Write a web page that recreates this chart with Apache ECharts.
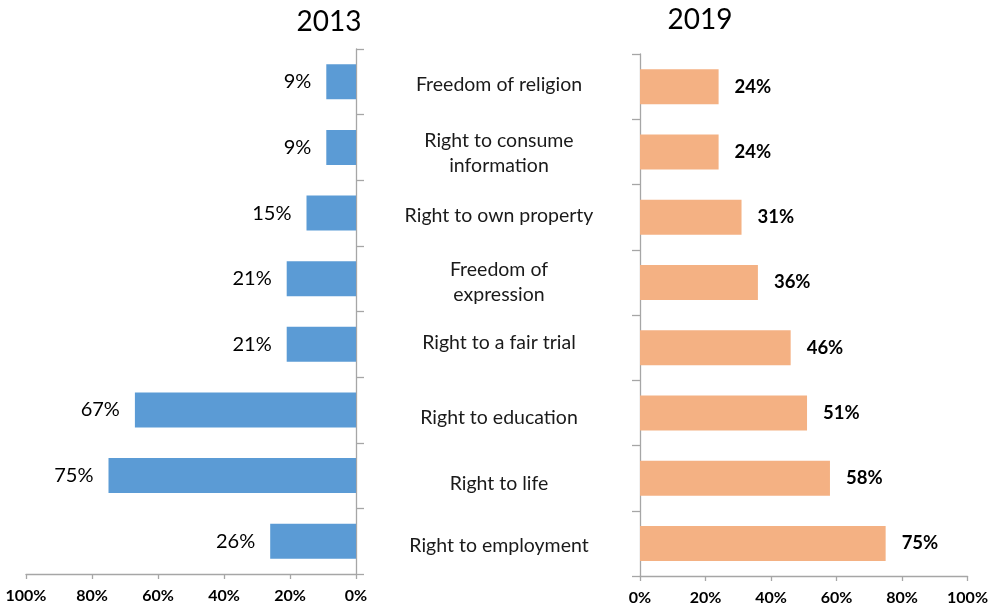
<!DOCTYPE html>
<html>
<head>
<meta charset="utf-8">
<script src="https://cdn.jsdelivr.net/npm/echarts@6/dist/echarts.min.js"></script>
<style>
  html, body { margin: 0; padding: 0; background: #fff; }
  #chart { width: 991px; height: 610px; }
</style>
</head>
<body>
<div id="chart"></div>
<script>
// Rights named in each survey year, listed top to bottom
const categories = [
  'Freedom of religion',
  'Right to consume\ninformation',
  'Right to own property',
  'Freedom of\nexpression',
  'Right to a fair trial',
  'Right to education',
  'Right to life',
  'Right to employment'
];
const years = ['2013', '2019'];
const values2013 = [9, 9, 15, 21, 21, 67, 75, 26];
const values2019 = [24, 24, 31, 36, 46, 51, 58, 75];
const tickValues = [0, 20, 40, 60, 80, 100];

// small vertical nudges (px) of the centre labels
const labelShift = [-2, 1, -1, 0, -5, 5, 6, 2];

const FONT = 'Lato';
const axisGray = '#A6A6A6';

const rich = {};
categories.forEach((c, i) => {
  const d = labelShift[i];
  rich['c' + i] = {
    fontFamily: FONT, fontSize: 19.5, color: '#1a1a1a', lineHeight: 25,
    align: 'center',
    padding: d >= 0 ? [2 * d, 0, 0, 0] : [0, 0, -2 * d, 0]
  };
});

const valueAxisCommon = {
  type: 'value', min: 0, max: 100, interval: 20,
  splitLine: { show: false },
  axisLine: { show: true, lineStyle: { color: axisGray, width: 1.3 } },
  axisTick: { show: true, length: 5, lineStyle: { color: axisGray, width: 1.3 } },
  axisLabel: {
    fontFamily: FONT, fontSize: 16, fontWeight: 'bold', color: '#000', margin: 14,
    formatter: v => tickValues.includes(v) ? v + '%' : ''
  }
};

const chart = echarts.init(document.getElementById('chart'), null, { renderer: 'canvas' });
chart.setOption({
  animation: false,
  backgroundColor: '#fff',
  title: [
    { text: years[0], left: 324, top: 3, textAlign: 'center',
      textStyle: { fontFamily: FONT, fontSize: 28, fontWeight: 'normal', color: '#000' } },
    { text: years[1], left: 695, top: 1, textAlign: 'center',
      textStyle: { fontFamily: FONT, fontSize: 28, fontWeight: 'normal', color: '#000' } }
  ],
  grid: [
    { left: 26, right: 991 - 356, top: 49, height: 525 },
    { left: 640, right: 991 - 970, top: 54, height: 522 }
  ],
  xAxis: [
    Object.assign({ gridIndex: 0, inverse: true }, valueAxisCommon),
    Object.assign({ gridIndex: 1 }, valueAxisCommon)
  ],
  yAxis: [
    {
      gridIndex: 0, type: 'category', data: categories, inverse: true, position: 'right',
      axisLine: { show: true, lineStyle: { color: axisGray, width: 1.3 } },
      axisTick: { show: true, length: 8, lineStyle: { color: axisGray, width: 1.3 } },
      axisLabel: { show: false }
    },
    {
      gridIndex: 1, type: 'category', data: categories, inverse: true, position: 'left',
      axisLine: { show: true, lineStyle: { color: axisGray, width: 1.3 } },
      axisTick: { show: true, length: 8, lineStyle: { color: axisGray, width: 1.3 } },
      axisLabel: {
        margin: 141, align: 'center',
        formatter: (v, i) => '{c' + i + '|' + v + '}',
        rich: rich
      }
    }
  ],
  series: [
    {
      name: years[0], type: 'bar', xAxisIndex: 0, yAxisIndex: 0,
      data: values2013, barWidth: 35,
      itemStyle: { color: '#5B9BD5' },
      label: {
        show: true, position: 'left', distance: 15,
        fontFamily: FONT, fontSize: 20, color: '#000',
        formatter: p => p.value + '%'
      }
    },
    {
      name: years[1], type: 'bar', xAxisIndex: 1, yAxisIndex: 1,
      data: values2019, barWidth: 35,
      itemStyle: { color: '#F4B183' },
      label: {
        show: true, position: 'right', distance: 16,
        fontFamily: FONT, fontSize: 18.5, fontWeight: 'bold', color: '#000',
        formatter: p => p.value + '%'
      }
    }
  ]
});
</script>
</body>
</html>
